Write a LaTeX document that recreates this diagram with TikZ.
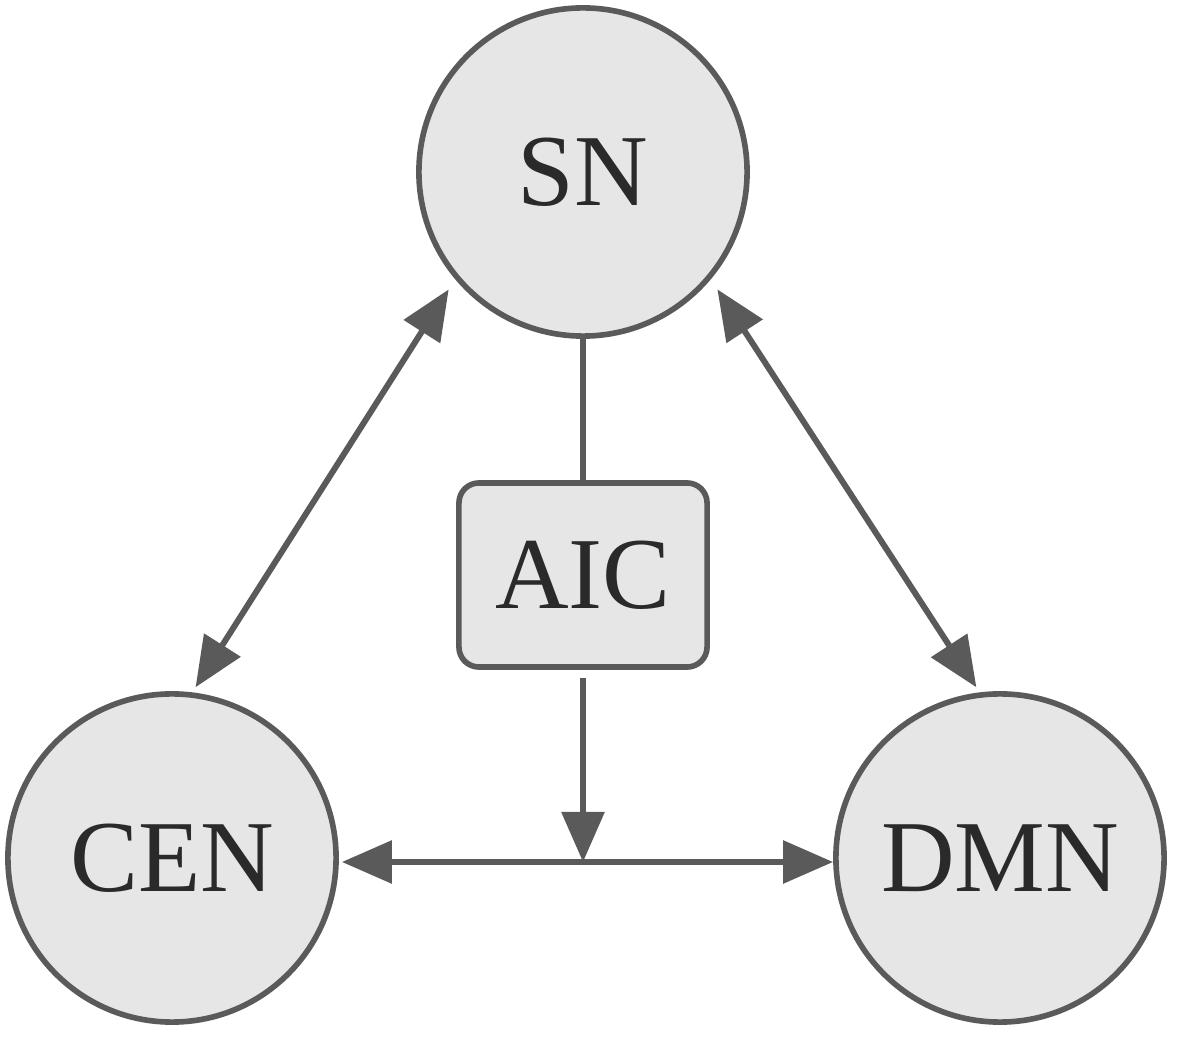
\documentclass[tikz,border=0pt]{standalone}
\usepackage{fontspec}
\setmainfont{Liberation Serif}
\usetikzlibrary{arrows.meta}
\definecolor{netfill}{HTML}{E6E6E6}
\definecolor{netline}{HTML}{5A5A5A}
\definecolor{nettext}{HTML}{2A2A2A}
\tikzset{
  net/.style={circle, draw=netline, fill=netfill, line width=1.6pt, minimum size=3.28cm, inner sep=0pt, text=nettext, font=\fontsize{29}{34}\selectfont},
  hub/.style={rectangle, rounded corners=0.2cm, draw=netline, fill=netfill, line width=1.6pt, minimum width=2.48cm, minimum height=1.84cm, text=nettext, font=\fontsize{29}{34}\selectfont},
  link/.style={draw=netline, line width=1.7pt, >={Triangle[length=0.5cm,width=0.42cm]}},
}
\begin{document}
\begin{tikzpicture}[x=0.01cm, y=-0.01cm]
    \useasboundingbox (0,0) rectangle (1178,1043);

    % Networks
    \node[net] (sn) at (583,172) {SN};
    \node[net] (cen) at (172,858) {CEN};
    \node[net] (dmn) at (1000,858) {DMN};
    \node[hub] (aic) at (583,575) {AIC};
    \coordinate (junction) at (583,862);

    % Connections
    \draw[link, <->, shorten <=0.12cm, shorten >=0.06cm] (sn.220) -- (cen.83);
    \draw[link, <->, shorten <=0.12cm, shorten >=0.06cm] (sn.320) -- (dmn.97);
    \draw[link] (sn) -- (aic);
    \draw[link, ->, shorten <=0.08cm] (aic) -- (junction);
    \draw[link, <->, shorten <=0.03cm] (cen.east |- junction) -- (dmn.west |- junction);
\end{tikzpicture}
\end{document}
